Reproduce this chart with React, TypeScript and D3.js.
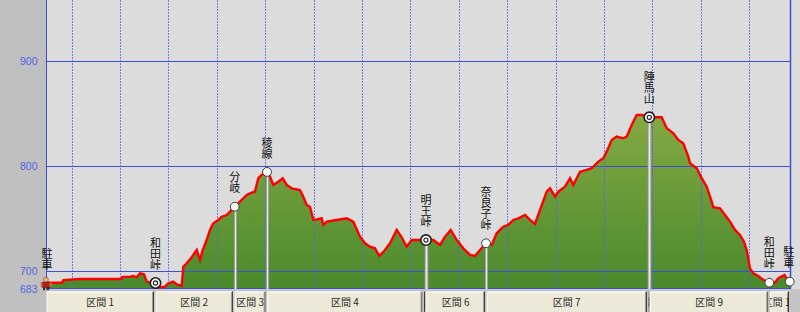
import React from "react";
import * as d3 from "d3";

const W = 800;
const H = 312;

// profile: distance (km) and elevation (m)
const distances = [
  -0.531, -0.2, -0.17, 0.17, 0.6, 1.03, 1.05, 1.2, 1.267, 1.343, 1.411, 1.494, 1.55, 1.653, 1.731,
  1.824, 1.928, 1.996, 2.099, 2.169, 2.273, 2.306, 2.376, 2.479, 2.583, 2.651, 2.707, 2.789, 2.857,
  2.926, 3.029, 3.099, 3.202, 3.271, 3.368, 3.477, 3.616, 3.719, 3.787, 3.855, 3.926, 3.994, 4.035,
  4.097, 4.165, 4.269, 4.36, 4.442, 4.545, 4.717, 4.785, 4.855, 4.924, 4.992, 5.062, 5.165, 5.198,
  5.269, 5.475, 5.682, 5.818, 5.957, 6.06, 6.163, 6.267, 6.355, 6.473, 6.576, 6.715, 6.818, 6.921,
  7.025, 7.196, 7.32, 7.471, 7.61, 7.713, 7.831, 7.955, 8.091, 8.229, 8.333, 8.436, 8.56, 8.678,
  8.781, 8.917, 9.021, 9.124, 9.227, 9.366, 9.469, 9.572, 9.676, 9.814, 9.882, 9.986, 10.054,
  10.192, 10.296, 10.364, 10.502, 10.64, 10.744, 10.88, 10.984, 11.054, 11.157, 11.26, 11.397,
  11.467, 11.57, 11.674, 11.777, 11.934, 12.087, 12.19, 12.293, 12.43, 12.533, 12.636, 12.74,
  12.775, 12.913, 13.017, 13.12, 13.223, 13.256, 13.395, 13.498, 13.601, 13.705, 13.808, 13.89,
  13.946, 14.014, 14.083, 14.186, 14.289, 14.413, 14.531, 14.599, 14.727, 14.8, 14.84,
];
const elevations = [
  689, 689, 691.5, 692.5, 692.5, 692.5, 694.5, 694.5, 695.4, 694.1, 698, 697, 690, 688.4, 688.7,
  684.5, 685.2, 688.4, 690, 687.5, 685.9, 704.2, 707.5, 713.2, 720.1, 710.6, 720.1, 729.6, 739.2,
  745.5, 748.7, 751.8, 753.4, 756.6, 761.3, 766.1, 772.5, 774.7, 775.6, 788.4, 791.5, 793.7, 794.4,
  789.9, 782, 785.1, 788.4, 782, 778.8, 777.2, 770.8, 762.9, 761.3, 748.7, 749.3, 750.3, 743.9,
  747.1, 748.7, 750.3, 747.1, 732.8, 726.5, 723.3, 721.7, 714.4, 720.1, 726.5, 739.2, 732.2, 723.3,
  729.6, 729.6, 729.6, 729.6, 724.9, 732.8, 739.2, 729.6, 721.7, 715.4, 714.4, 720.1, 726.5, 724.9,
  736, 742.3, 743.9, 748.7, 750.3, 753.4, 748.7, 744.9, 758.2, 775.6, 778.8, 770.8, 775.6,
  780.4, 788.4, 782, 794.6, 796.3, 797.9, 804.2, 807.4, 813.7, 824.8, 828, 826.4,
  828, 839.1, 848.6, 848.6, 846.4, 846.4, 846.4, 835.9, 831.2, 824.8, 821.7, 808.9,
  802.6, 797.9, 788.4, 780.4, 766.1, 760.8, 759.8, 753.4, 747.1, 739.2, 734.4, 728,
  720.1, 702.7, 697.9, 695.4, 691.6, 689, 689, 693.2, 696.3, 691, 690,
];

const yTicks = [683, 700, 800, 900];
const yGrid = [700, 800, 900];
const xGridKm = [0, 1, 2, 3, 4, 5, 6, 7, 8, 9, 10, 11, 12, 13, 14];

const waypointNames = ["駐車", "和田峠", "分岐", "稜線", "明王峠", "奈良子峠", "陣馬山", "和田峠", "駐車"];
const waypointKm = [-0.531, 1.731, 3.368, 4.035, 7.32, 8.56, 11.934, 14.413, 14.835];
const waypointEle = [688.5, 688.7, 761.3, 794.4, 729.6, 726.5, 846.4, 689, 690];
const waypointMarker = ["icon", "double", "circle", "circle", "double", "circle", "double", "circle", "circle"];
const waypointStem = ["none", "none", "thin", "thin", "thick", "thin", "thick", "none", "none"];

const sectionBounds = [-0.531, 1.721, 3.353, 4.029, 7.269, 7.314, 8.56, 11.907, 11.938, 14.413, 14.841];
const sectionLabels = ["区間 1", "区間 2", "区間 3", "区間 4", "区間 5", "区間 6", "区間 7", "区間 8", "区間 9", "区間 10"];

const PLOT_L = 46;
const PLOT_R = 790;
const PLOT_B = 289;

export default function App() {
  const x = d3.scaleLinear().domain([-0.531, 14.841]).range([PLOT_L, PLOT_R]);
  const y = d3.scaleLinear().domain([683, 958]).range([PLOT_B, 0]);

  const pts = distances.map((d, i) => [d, elevations[i]] as [number, number]);
  const area = d3
    .area<[number, number]>()
    .x((p) => x(p[0]))
    .y0(y(683))
    .y1((p) => y(p[1]));
  const line = d3
    .line<[number, number]>()
    .x((p) => x(p[0]))
    .y((p) => y(p[1]));

  const jp = "'Noto Sans CJK JP', 'Noto Sans', sans-serif";

  return (
    <svg
      width={W}
      height={H}
      style={{ position: "absolute", left: 0, top: 0, display: "block" }}
    >
      <defs>
        <linearGradient id="fillg" x1="0" y1="0" x2="0" y2="1">
          <stop offset="0%" stopColor="#84a942" />
          <stop offset="100%" stopColor="#4a8a2c" />
        </linearGradient>
        <clipPath id="plotclip">
          <rect x={PLOT_L} y={0} width={PLOT_R - PLOT_L} height={PLOT_B} />
        </clipPath>
        {sectionLabels.map((_, i) => {
          const x0 = x(sectionBounds[i]) + 0.5;
          const x1 = x(sectionBounds[i + 1]) - 1;
          return (
            <clipPath id={`sec${i}`} key={i}>
              <rect x={x0} y={291} width={Math.max(1, x1 - x0)} height={22} />
            </clipPath>
          );
        })}
      </defs>

      {/* backgrounds */}
      <rect x={0} y={0} width={W} height={H} fill="#dcdcdc" />
      <rect x={0} y={0} width={PLOT_L} height={H} fill="#c0c0c0" />
      <rect x={PLOT_L} y={PLOT_B} width={W - PLOT_L} height={H - PLOT_B} fill="#c4c4c4" />

      {/* area */}
      <g clipPath="url(#plotclip)">
        <path d={area(pts) || ""} fill="url(#fillg)" />
      </g>

      {/* grid */}
      {xGridKm.map((k) => (
        <line
          key={k}
          x1={Math.round(x(k)) + 0.5}
          x2={Math.round(x(k)) + 0.5}
          y1={0}
          y2={PLOT_B}
          stroke="#5566e6"
          strokeWidth={1}
          strokeDasharray="2,1"
          opacity={0.8}
        />
      ))}
      {yGrid.map((v) => (
        <line
          key={v}
          x1={PLOT_L}
          x2={PLOT_R}
          y1={Math.round(y(v)) + 0.5}
          y2={Math.round(y(v)) + 0.5}
          stroke="#3b4fdc"
          strokeWidth={1}
        />
      ))}
      <line x1={PLOT_L} x2={PLOT_R} y1={PLOT_B - 0.5} y2={PLOT_B - 0.5} stroke="#3b4fdc" strokeWidth={1} />
      <line x1={PLOT_L + 0.5} x2={PLOT_L + 0.5} y1={0} y2={PLOT_B} stroke="#3b4fdc" strokeWidth={1} />
      <line x1={PLOT_R + 0.5} x2={PLOT_R + 0.5} y1={0} y2={PLOT_B} stroke="#3b4fdc" strokeWidth={1.5} />

      {/* y tick labels */}
      {yTicks.map((v) => (
        <text
          key={v}
          x={37.5}
          y={y(v)}
          dy="0.36em"
          textAnchor="end"
          fontFamily="'Liberation Sans', Arial, sans-serif"
          fontSize={10.5}
          fill="#5264e4"
        >
          {v}
        </text>
      ))}

      {/* profile line */}
      <g clipPath="url(#plotclip)">
        <path d={line(pts) || ""} fill="none" stroke="#ff0000" strokeWidth={2.4} strokeLinejoin="miter" />
      </g>

      {/* stems */}
      {waypointNames.map((_, i) => {
        const s = waypointStem[i];
        if (s === "none") return null;
        const cx = Math.round(x(waypointKm[i])) + 0.5;
        const cy = y(waypointEle[i]);
        return (
          <g key={i}>
            <line x1={cx} x2={cx} y1={cy} y2={PLOT_B} stroke="#8c8c8c" strokeWidth={s === "thick" ? 4 : 3} />
            <line x1={cx} x2={cx} y1={cy} y2={PLOT_B} stroke="#e6e6e6" strokeWidth={s === "thick" ? 2 : 1.5} />
          </g>
        );
      })}

      {/* markers */}
      {waypointNames.map((_, i) => {
        const cx = x(waypointKm[i]);
        const cy = y(waypointEle[i]);
        const m = waypointMarker[i];
        if (m === "icon") {
          return (
            <g key={i}>
              <rect x={cx - 4} y={cy - 1} width={8} height={5} fill="#b81c1c" stroke="#5a1010" strokeWidth={0.6} />
              <circle cx={cx} cy={cy - 3.5} r={2.4} fill="#f2b27a" stroke="#8a3a1a" strokeWidth={0.6} />
              <rect x={cx - 5.5} y={cy - 0.5} width={2} height={4} fill="#e07040" />
              <rect x={cx + 3.5} y={cy - 0.5} width={2} height={4} fill="#e07040" />
              <rect x={cx - 3} y={cy + 4} width={2.2} height={3} fill="#3a2a2a" />
              <rect x={cx + 0.8} y={cy + 4} width={2.2} height={3} fill="#3a2a2a" />
            </g>
          );
        }
        if (m === "double") {
          return (
            <g key={i}>
              <circle cx={cx} cy={cy} r={5.2} fill="#ffffff" stroke="#1e1e1e" strokeWidth={1.6} />
              <circle cx={cx} cy={cy} r={2.1} fill="#ffffff" stroke="#1e1e1e" strokeWidth={1.1} />
            </g>
          );
        }
        return <circle key={i} cx={cx} cy={cy} r={4.4} fill="#ffffff" stroke="#3a3a3a" strokeWidth={1} />;
      })}

      {/* vertical labels */}
      {waypointNames.map((name, i) => {
        const cx = x(waypointKm[i]) + (i === 0 ? 1 : i === waypointNames.length - 1 ? -1 : 0);
        const cy = y(waypointEle[i]);
        return (
          <text
            key={i}
            x={cx}
            y={cy - 13}
            textAnchor="end"
            fontFamily={jp}
            fontSize={11}
            fill="#111"
            style={{ writingMode: "vertical-rl", textOrientation: "upright" } as React.CSSProperties}
          >
            {name}
          </text>
        );
      })}

      {/* section boxes */}
      {sectionLabels.map((lab, i) => {
        const x0 = x(sectionBounds[i]) + 0.5;
        const x1 = x(sectionBounds[i + 1]) - 1;
        const w = Math.max(1, x1 - x0);
        return (
          <g key={i} clipPath={`url(#sec${i})`}>
            <rect x={x0} y={291.5} width={w} height={22} fill="#ece9d8" />
            <line x1={x0} x2={x0 + w} y1={292} y2={292} stroke="#ffffff" strokeWidth={1} />
            <line x1={x0 + 0.5} x2={x0 + 0.5} y1={292} y2={313} stroke="#ffffff" strokeWidth={1} />
            <line x1={x0 + w - 1.5} x2={x0 + w - 1.5} y1={292} y2={313} stroke="#a09c90" strokeWidth={1} />
            <line x1={x0 + w - 0.5} x2={x0 + w - 0.5} y1={291.5} y2={313} stroke="#404040" strokeWidth={1} />
            <text
              x={x0 + w / 2}
              y={302}
              dy="0.36em"
              textAnchor="middle"
              fontFamily={jp}
              fontSize={10}
              fill="#2a2a2a"
            >
              {lab}
            </text>
          </g>
        );
      })}
    </svg>
  );
}
